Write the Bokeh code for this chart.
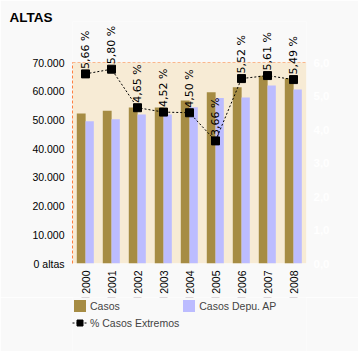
import math
from bokeh.plotting import figure
from bokeh.layouts import column
from bokeh.models import (FactorRange, Range1d, LinearAxis, FixedTicker, Legend,
                          LegendItem, ColumnDataSource, BoxAnnotation)
from bokeh.transform import dodge
from bokeh.core.properties import value
from bokeh.embed import file_html
from bokeh.resources import INLINE

years = ["2000", "2001", "2002", "2003", "2004", "2005", "2006", "2007", "2008"]
casos = [52200, 53200, 54300, 54300, 56800, 59600, 61400, 65400, 64500]
casos_depu = [49500, 50200, 51900, 51900, 54400, 57600, 57800, 62000, 60600]
pct_extremos = [5.66, 5.80, 4.65, 4.52, 4.50, 3.66, 5.52, 5.61, 5.49]
pct_labels = ["5,66 %", "5,80 %", "4,65 %", "4,52 %", "4,50 %", "3,66 %", "5,52 %", "5,61 %", "5,49 %"]
left_ticks = [0, 10000, 20000, 30000, 40000, 50000, 60000, 70000]
left_tick_labels = ["0 altas", "10.000", "20.000", "30.000", "40.000", "50.000", "60.000", "70.000"]
right_ticks = [0, 1, 2, 3, 4, 5, 6]
right_tick_labels = ["0,0", "1,0", "2,0", "3,0", "4,0", "5,0", "6,0"]
legend_labels = ["Casos", "Casos Depu. AP", "% Casos Extremos"]

# layout geometry (pixels)
W, H = 358, 351
H1 = 297
frame_top, area_top, frame_bottom = 21, 62, 263
stretch = (frame_bottom - frame_top) / (frame_bottom - area_top)
y_max = left_ticks[-1]
p_max = right_ticks[-1]
bg = "#f9f9f9"
c_casos, c_depu = "#a68c44", "#bcbcff"
grid_color = "#ff8040"
lab_font = "Liberation Sans"
fs = "10.5px"

src = ColumnDataSource(dict(years=years, casos=casos, depu=casos_depu,
                            pct=pct_extremos, lbl=pct_labels))

p = figure(width=W, height=H1, x_range=FactorRange(*years, range_padding=0),
           y_range=Range1d(0, y_max * stretch), output_backend="svg", toolbar_location=None,
           min_border_left=72, min_border_right=52, min_border_top=frame_top,
           min_border_bottom=H1 - frame_bottom)
p.background_fill_color = bg
p.border_fill_color = bg
p.outline_line_color = None
p.extra_y_ranges = {"pct": Range1d(0, p_max * stretch)}

p.add_layout(BoxAnnotation(bottom=0, top=y_max, fill_color="#f7ebd5", fill_alpha=1,
                           line_color=None, level="underlay"))

p.xgrid.grid_line_color = None
p.ygrid.ticker = FixedTicker(ticks=left_ticks)
p.ygrid.grid_line_color = grid_color
p.ygrid.grid_line_dash = "3 2"

p.vbar(x=dodge("years", -0.165, range=p.x_range), top="casos", width=0.34,
       source=src, fill_color=c_casos, line_color=None)
p.vbar(x=dodge("years", 0.16, range=p.x_range), top="depu", width=0.32,
       source=src, fill_color=c_depu, line_color=None)
p.line(x="years", y="pct", source=src, y_range_name="pct",
       line_color="black", line_dash="2 2", line_width=1)
p.scatter(x="years", y="pct", source=src, y_range_name="pct", marker="square",
          size=8, fill_color="black", line_color="black")
p.text(x="years", y="pct", text="lbl", source=src, y_range_name="pct",
       angle=90, angle_units="deg",
       text_align="left", text_baseline="middle", x_offset=0, y_offset=-5,
       text_font=value("DejaVu Sans"), text_font_size="11px", text_color="black")

yax = p.yaxis[0]
yax.ticker = FixedTicker(ticks=left_ticks)
yax.bounds = (0, y_max)
yax.major_label_overrides = {t: l for t, l in zip(left_ticks, left_tick_labels)}
yax.axis_line_color = grid_color
yax.axis_line_dash = "3 2"
yax.major_tick_line_color = None
yax.minor_tick_line_color = None
yax.major_tick_out = 0
yax.major_tick_in = 0
yax.minor_tick_out = 0
yax.major_label_standoff = 8
yax.major_label_text_font = lab_font
yax.major_label_text_font_size = fs
yax.major_label_text_color = "black"

xax = p.xaxis[0]
xax.major_label_orientation = math.pi / 2
xax.axis_line_color = None
xax.major_tick_line_color = None
xax.major_tick_out = 0
xax.major_tick_in = 0
xax.minor_tick_out = 0
xax.major_label_standoff = 7
xax.major_label_text_font = lab_font
xax.major_label_text_font_size = fs
xax.major_label_text_color = "black"

rax = LinearAxis(y_range_name="pct", ticker=FixedTicker(ticks=right_ticks), bounds=(0, p_max))
rax.major_label_overrides = {t: l for t, l in zip(right_ticks, right_tick_labels)}
rax.axis_line_color = None
rax.major_tick_line_color = None
rax.minor_tick_line_color = None
rax.major_tick_out = 0
rax.major_tick_in = 0
rax.minor_tick_out = 0
rax.major_label_standoff = 7
rax.major_label_text_font = lab_font
rax.major_label_text_font_style = "bold"
rax.major_label_text_font_size = "11.5px"
rax.major_label_text_color = "white"
p.add_layout(rax, "right")

p.title.text = "ALTAS"
p.title.align = "left"
p.title.offset = -63
p.title.standoff = -6
p.title.text_font = lab_font
p.title.text_font_style = "bold"
p.title.text_font_size = "13.5px"
p.title.text_color = "black"

# legend strip (renderers kept outside its visible range; only the legend shows)
H2 = H - H1
q = figure(width=W, height=H2, output_backend="svg", toolbar_location=None,
           x_range=FactorRange(*years), y_range=Range1d(-2, -1),
           x_axis_location=None, y_axis_location=None,
           min_border_left=0, min_border_right=0, min_border_top=0, min_border_bottom=0)
q.background_fill_color = bg
q.border_fill_color = bg
q.outline_line_color = None
q.grid.visible = False
q.extra_y_ranges = {"pct": Range1d(-2, -1)}
e1 = q.vbar(x="years", top="casos", width=0.3, source=src, fill_color=c_casos, line_color=None)
e2 = q.vbar(x="years", top="depu", width=0.3, source=src, fill_color=c_depu, line_color=None)
e3 = q.line(x="years", y="pct", source=src, y_range_name="pct",
            line_color="black", line_dash="2 2", line_width=1)
e4 = q.scatter(x="years", y="pct", source=src, y_range_name="pct", marker="square",
               size=8, fill_color="black", line_color="black")
legend = Legend(items=[LegendItem(label=legend_labels[0], renderers=[e1]),
                       LegendItem(label=legend_labels[1], renderers=[e2]),
                       LegendItem(label=legend_labels[2], renderers=[e3, e4])],
                orientation="horizontal", ncols=2, location=(0, 21),
                glyph_width=15, glyph_height=15, spacing=2, padding=0, margin=0,
                label_standoff=3, label_text_font=lab_font, label_text_font_size=fs,
                label_height=15, background_fill_alpha=0, border_line_color=None)
q.add_layout(legend, "center")

layout = column(p, q, spacing=0)
open("out.html", "w").write(file_html(layout, INLINE))
